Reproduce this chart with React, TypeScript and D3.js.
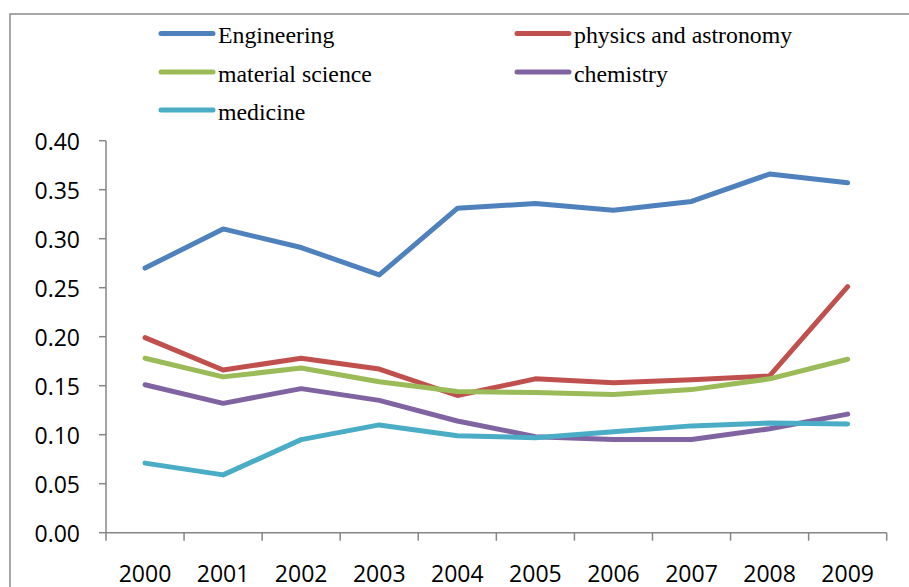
import React from "react";
import * as d3 from "d3";

const years = ["2000", "2001", "2002", "2003", "2004", "2005", "2006", "2007", "2008", "2009"];
const engineering = [0.270, 0.310, 0.291, 0.263, 0.331, 0.336, 0.329, 0.338, 0.366, 0.357];
const physics = [0.199, 0.166, 0.178, 0.167, 0.140, 0.157, 0.153, 0.156, 0.160, 0.251];
const material = [0.178, 0.159, 0.168, 0.154, 0.144, 0.143, 0.141, 0.146, 0.157, 0.177];
const chemistry = [0.151, 0.132, 0.147, 0.135, 0.114, 0.098, 0.095, 0.095, 0.106, 0.121];
const medicine = [0.071, 0.059, 0.095, 0.110, 0.099, 0.097, 0.103, 0.109, 0.112, 0.111];
const yTicks = [0, 0.05, 0.1, 0.15, 0.2, 0.25, 0.3, 0.35, 0.4];

const seriesNames = ["Engineering", "physics and astronomy", "material science", "chemistry", "medicine"];
const seriesColors = ["#4F81BD", "#C0504D", "#9BBB59", "#8064A2", "#4BACC6"];
const seriesValues = [engineering, physics, material, chemistry, medicine];

export default function App() {
  const W = 909, H = 587;
  const left = 106, right = 886.7, top = 140.7, bottom = 532.7;
  const x = d3.scaleBand<string>().domain(years).range([left, right]).padding(0);
  const y = d3.scaleLinear().domain([0, 0.4]).range([bottom, top]);
  const line = d3.line<number>()
    .x((_, i) => (x(years[i]) as number) + x.bandwidth() / 2)
    .y((d) => y(d));
  const axisColor = "#868686";
  const legendPos = [
    [161, 33.5], [517, 33.5], [161, 72], [517, 72], [161, 110],
  ];
  const xTickPositions = years.map((yr) => x(yr) as number).concat([right]);
  return (
    <svg width={W} height={H} style={{ position: "absolute", left: 0, top: 0 }}>
      <rect x={0} y={0} width={W} height={H} fill="#fff" />
      <rect x={10} y={14} width={1000} height={800} fill="none" stroke="#8a8a8a" strokeWidth={1.5} />
      {/* y axis */}
      <line x1={left} x2={left} y1={top} y2={bottom} stroke={axisColor} strokeWidth={1.5} />
      {yTicks.map((t) => (
        <g key={t}>
          <line x1={left - 7} x2={left} y1={y(t)} y2={y(t)} stroke={axisColor} strokeWidth={1.5} />
          <text x={80} y={y(t)} textAnchor="end" dominantBaseline="central"
            fontFamily="'Open Sans', sans-serif" fontSize={23} fill="#000">
            {d3.format(".2f")(t)}
          </text>
        </g>
      ))}
      {/* x axis */}
      <line x1={left} x2={right} y1={bottom} y2={bottom} stroke={axisColor} strokeWidth={1.5} />
      {xTickPositions.map((p, i) => (
        <line key={i} x1={p} x2={p} y1={bottom} y2={bottom + 8} stroke={axisColor} strokeWidth={1.5} />
      ))}
      {years.map((yr) => (
        <text key={yr} x={(x(yr) as number) + x.bandwidth() / 2} y={582} textAnchor="middle"
          fontFamily="'Open Sans', sans-serif" fontSize={23} fill="#000">
          {yr}
        </text>
      ))}
      {/* series */}
      {seriesValues.map((vals, i) => (
        <path key={i} d={line(vals) as string} fill="none" stroke={seriesColors[i]}
          strokeWidth={5} strokeLinecap="round" strokeLinejoin="round" />
      ))}
      {/* legend */}
      {seriesNames.map((name, i) => (
        <g key={name}>
          <line x1={legendPos[i][0]} x2={legendPos[i][0] + 52} y1={legendPos[i][1]} y2={legendPos[i][1]}
            stroke={seriesColors[i]} strokeWidth={5} strokeLinecap="round" />
          <text x={legendPos[i][0] + 57} y={legendPos[i][1] + 9.5}
            fontFamily="'Liberation Serif', 'Times New Roman', serif" fontSize={23.8} fill="#000">
            {name}
          </text>
        </g>
      ))}
    </svg>
  );
}
